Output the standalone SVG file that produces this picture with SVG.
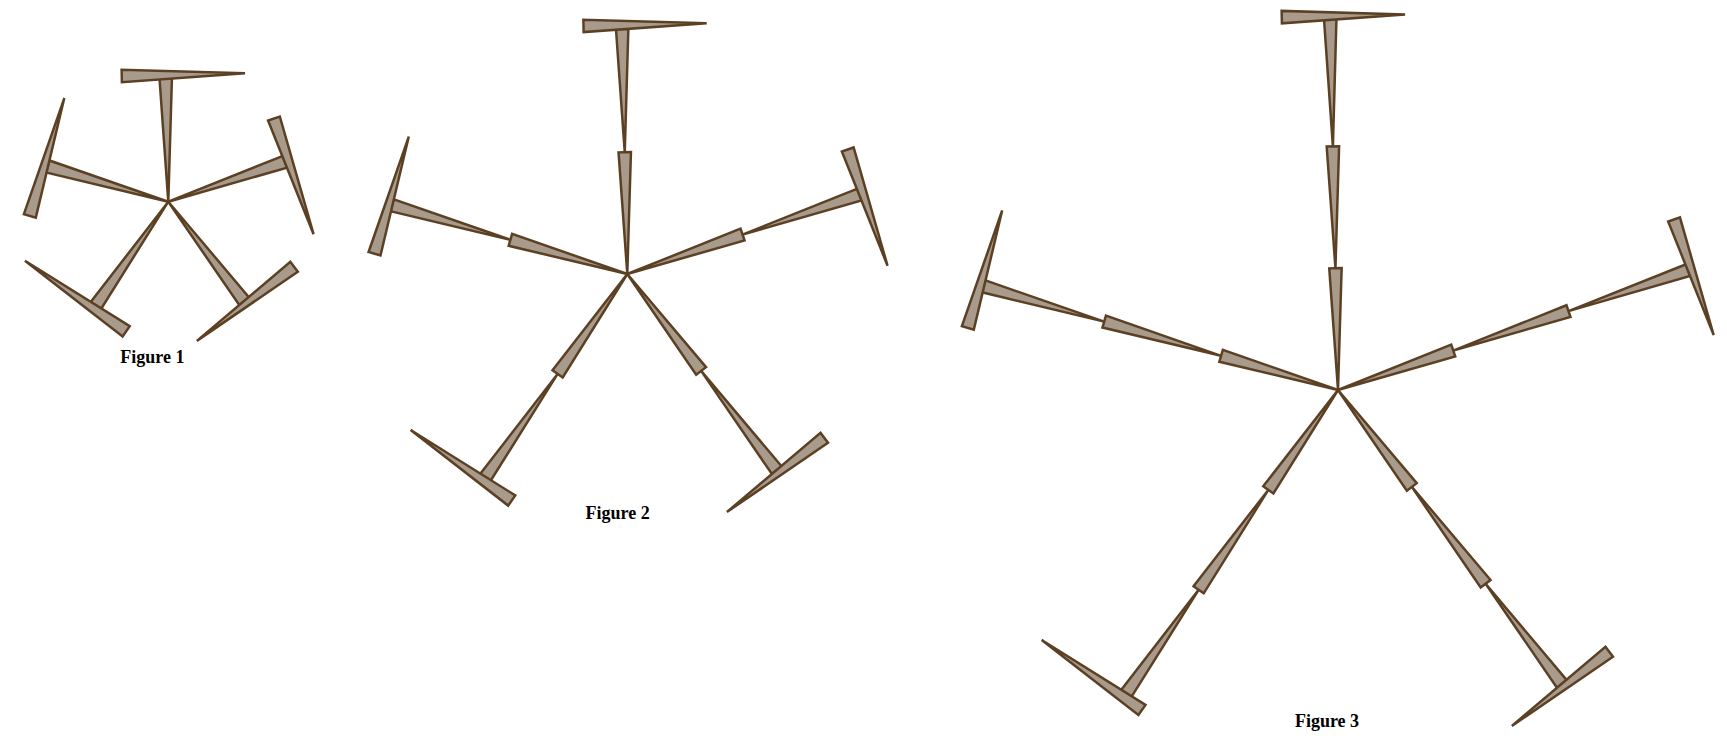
<svg xmlns="http://www.w3.org/2000/svg" width="1727" height="747" viewBox="0 0 1727 747">
<style>
.w{fill:#a99b8c;stroke:#5c4024;stroke-width:2.5}
.lbl{font-family:"Liberation Serif","Times New Roman",serif;font-weight:bold;font-size:18px;fill:#000;text-anchor:middle}
</style>
<rect width="1727" height="747" fill="#ffffff"/>
<g id="figure1" transform="translate(168.3,201.7)">
 <g id="f1-arm1" transform="rotate(-91.2)">
  <polygon class="w" points="0,0 123.2,-6.2 123.2,6.2"/>
  <polygon class="w" points="126.7,79.4 120.5,-43.9 132.9,-43.9"/>
 </g>
 <g id="f1-arm2" transform="rotate(-18.9)">
  <polygon class="w" points="0,0 123.4,-6.2 123.4,6.2"/>
  <polygon class="w" points="126.9,77.8 120.7,-44.5 133.1,-44.5"/>
 </g>
 <g id="f1-arm3" transform="rotate(52.7)">
  <polygon class="w" points="0,0 125.2,-6.2 125.2,6.2"/>
  <polygon class="w" points="128,61.6 121.8,-60.6 134.2,-60.6"/>
 </g>
 <g id="f1-arm4" transform="rotate(124.9)">
  <polygon class="w" points="0,0 126.7,-6.2 126.7,6.2"/>
  <polygon class="w" points="130.4,83.8 124.2,-39.6 136.6,-39.6"/>
 </g>
 <g id="f1-arm5" transform="rotate(196.3)">
  <polygon class="w" points="0,0 125.7,-6.2 125.7,6.2"/>
  <polygon class="w" points="128.9,70.3 122.7,-52.5 135.1,-52.5"/>
 </g>
</g>
<g id="figure2" transform="translate(627.3,274)">
 <g id="f2-arm1" transform="rotate(-91.2)">
  <polygon class="w" points="0,0 121.8,-6.2 121.8,6.2"/>
  <polygon class="w" points="121.8,0 245.2,-6.2 245.2,6.2"/>
  <polygon class="w" points="249,84.6 242.8,-38.6 255.2,-38.6"/>
 </g>
 <g id="f2-arm2" transform="rotate(-18.9)">
  <polygon class="w" points="0,0 121.8,-6.2 121.8,6.2"/>
  <polygon class="w" points="121.8,0 245.5,-6.2 245.5,6.2"/>
  <polygon class="w" points="248.9,76.5 242.7,-46.4 255.1,-46.4"/>
 </g>
 <g id="f2-arm3" transform="rotate(52.7)">
  <polygon class="w" points="0,0 121.8,-6.2 121.8,6.2"/>
  <polygon class="w" points="121.8,0 246.8,-6.2 246.8,6.2"/>
  <polygon class="w" points="249.7,65 243.5,-57.4 255.9,-57.4"/>
 </g>
 <g id="f2-arm4" transform="rotate(124.9)">
  <polygon class="w" points="0,0 121.8,-6.2 121.8,6.2"/>
  <polygon class="w" points="121.8,0 248,-6.2 248,6.2"/>
  <polygon class="w" points="251.9,88.4 245.7,-34.8 258.1,-34.8"/>
 </g>
 <g id="f2-arm5" transform="rotate(196.3)">
  <polygon class="w" points="0,0 121.8,-6.2 121.8,6.2"/>
  <polygon class="w" points="121.8,0 245.1,-6.2 245.1,6.2"/>
  <polygon class="w" points="248.3,70.6 242.1,-51.5 254.5,-51.5"/>
 </g>
</g>
<g id="figure3" transform="translate(1338,390)">
 <g id="f3-arm1" transform="rotate(-91.2)">
  <polygon class="w" points="0,0 121.8,-6.2 121.8,6.2"/>
  <polygon class="w" points="121.8,0 243.6,-6.2 243.6,6.2"/>
  <polygon class="w" points="243.6,0 370.6,-6.2 370.6,6.2"/>
  <polygon class="w" points="374,74.9 367.8,-48.4 380.2,-48.4"/>
 </g>
 <g id="f3-arm2" transform="rotate(-18.9)">
  <polygon class="w" points="0,0 121.8,-6.2 121.8,6.2"/>
  <polygon class="w" points="121.8,0 243.6,-6.2 243.6,6.2"/>
  <polygon class="w" points="243.6,0 370.1,-6.2 370.1,6.2"/>
  <polygon class="w" points="373.2,69.8 367,-52.5 379.4,-52.5"/>
 </g>
 <g id="f3-arm3" transform="rotate(52.7)">
  <polygon class="w" points="0,0 121.8,-6.2 121.8,6.2"/>
  <polygon class="w" points="121.8,0 243.6,-6.2 243.6,6.2"/>
  <polygon class="w" points="243.6,0 369.7,-6.2 369.7,6.2"/>
  <polygon class="w" points="372.6,65.3 366.4,-57.1 378.8,-57.1"/>
 </g>
 <g id="f3-arm4" transform="rotate(124.9)">
  <polygon class="w" points="0,0 121.8,-6.2 121.8,6.2"/>
  <polygon class="w" points="121.8,0 243.6,-6.2 243.6,6.2"/>
  <polygon class="w" points="243.6,0 370.1,-6.2 370.1,6.2"/>
  <polygon class="w" points="374.6,100 368.4,-22.3 380.8,-22.3"/>
 </g>
 <g id="f3-arm5" transform="rotate(196.3)">
  <polygon class="w" points="0,0 121.8,-6.2 121.8,6.2"/>
  <polygon class="w" points="121.8,0 243.6,-6.2 243.6,6.2"/>
  <polygon class="w" points="243.6,0 369.2,-6.2 369.2,6.2"/>
  <polygon class="w" points="372.7,78 366.5,-44.3 378.9,-44.3"/>
 </g>
</g>
<g id="labels">
 <text class="lbl" x="152.4" y="363">Figure 1</text>
 <text class="lbl" x="617.6" y="519.3">Figure 2</text>
 <text class="lbl" x="1327" y="726.7">Figure 3</text>
</g>
</svg>
